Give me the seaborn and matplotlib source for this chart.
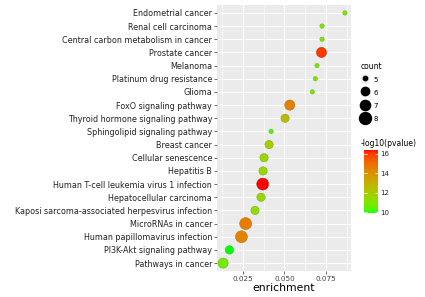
import numpy as np
import pandas as pd
import matplotlib
matplotlib.use("Agg")
import matplotlib.pyplot as plt
import seaborn as sns
from matplotlib.colors import ListedColormap, Normalize
from matplotlib.lines import Line2D
from matplotlib.patches import Patch
from matplotlib.legend_handler import HandlerTuple
from matplotlib.ticker import MultipleLocator

pathways = [
    "Endometrial cancer", "Renal cell carcinoma", "Central carbon metabolism in cancer",
    "Prostate cancer", "Melanoma", "Platinum drug resistance", "Glioma",
    "FoxO signaling pathway", "Thyroid hormone signaling pathway",
    "Sphingolipid signaling pathway", "Breast cancer", "Cellular senescence",
    "Hepatitis B", "Human T-cell leukemia virus 1 infection", "Hepatocellular carcinoma",
    "Kaposi sarcoma-associated herpesvirus infection", "MicroRNAs in cancer",
    "Human papillomavirus infection", "PI3K-Akt signaling pathway", "Pathways in cancer",
]
enrichment = [0.0862, 0.0725, 0.0725, 0.0722, 0.0695, 0.0685, 0.0667,
              0.0532, 0.0504, 0.0420, 0.0408, 0.0378, 0.0372, 0.0370,
              0.0360, 0.0324, 0.0268, 0.0243, 0.0171, 0.0133]
count = [5, 5, 5, 7, 5, 5, 5, 7, 6, 5, 6, 6, 6, 8, 6, 6, 8, 8, 6, 7]
neglogp = [10.9, 10.9, 10.9, 16.0, 10.9, 10.9, 10.9, 14.5, 12.6, 10.3,
           11.9, 11.6, 11.5, 16.4, 11.5, 11.3, 14.6, 14.4, 9.9, 10.8]
size_levels = [5, 6, 7, 8]
cbar_ticks = [10, 12, 14, 16]

df = pd.DataFrame({"pathway": pathways, "enrichment": enrichment,
                   "count": count, "p": neglogp})

# ggplot-like green->red gradient interpolated in Lab space
def srgb_to_lab(rgb):
    rgb = np.asarray(rgb, float)
    lin = np.where(rgb <= 0.04045, rgb / 12.92, ((rgb + 0.055) / 1.055) ** 2.4)
    M = np.array([[0.4124, 0.3576, 0.1805], [0.2126, 0.7152, 0.0722], [0.0193, 0.1192, 0.9505]])
    xyz = M @ lin
    wp = np.array([0.95047, 1.0, 1.08883])
    t = xyz / wp
    f = np.where(t > 216 / 24389, np.cbrt(t), (24389 / 27 * t + 16) / 116)
    return np.array([116 * f[1] - 16, 500 * (f[0] - f[1]), 200 * (f[1] - f[2])])

def lab_to_srgb(lab):
    L, a, b = lab
    fy = (L + 16) / 116
    fx = fy + a / 500
    fz = fy - b / 200
    def finv(f):
        return f ** 3 if f ** 3 > 216 / 24389 else (116 * f - 16) / (24389 / 27)
    wp = np.array([0.95047, 1.0, 1.08883])
    xyz = np.array([finv(fx), finv(fy), finv(fz)]) * wp
    Minv = np.array([[3.2406, -1.5372, -0.4986], [-0.9689, 1.8758, 0.0415], [0.0557, -0.2040, 1.0570]])
    lin = np.clip(Minv @ xyz, 0, 1)
    rgb = np.where(lin <= 0.0031308, 12.92 * lin, 1.055 * lin ** (1 / 2.4) - 0.055)
    return np.clip(rgb, 0, 1)

lab_lo = srgb_to_lab([0, 1, 0])
lab_hi = srgb_to_lab([1, 0, 0])
cols = [lab_to_srgb(lab_lo + (lab_hi - lab_lo) * t) for t in np.linspace(0, 1, 256)]
cmap = ListedColormap(cols)
vmin, vmax = min(neglogp), max(neglogp)
norm = Normalize(vmin, vmax)

size_map = {5: 10, 6: 36, 7: 54, 8: 74}

fig = plt.figure(figsize=(4.25, 2.97), dpi=100)
ax = fig.add_axes([217 / 425, 1 - 271 / 297, 134 / 425, 266 / 297])
ax.set_facecolor("#EBEBEB")

sns.scatterplot(data=df, x="enrichment", y="pathway", hue="p", palette=cmap,
                hue_norm=(vmin, vmax), size="count", sizes=size_map,
                linewidth=0.3, edgecolor="#5a7a20", legend=False, ax=ax, zorder=3)
# keep edges only subtle on the smallest dots
for coll in ax.collections:
    fc = coll.get_facecolors()
    coll.set_edgecolors(fc * np.array([0.75, 0.75, 0.75, 1.0]))

n = len(pathways)
ax.set_ylim(n - 1 + 0.6, -0.6)
span = max(enrichment) - min(enrichment)
ax.set_xlim(min(enrichment) - 0.05 * span, max(enrichment) + 0.05 * span)
ax.xaxis.set_minor_locator(MultipleLocator(0.0125))
ax.set_xticks([0.025, 0.05, 0.075])
ax.set_xticklabels(["0.025", "0.050", "0.075"])
ax.grid(which="major", color="white", linewidth=0.8, zorder=0)
ax.grid(which="minor", axis="x", color="white", linewidth=0.4, zorder=0)
ax.set_axisbelow(True)
for s in ax.spines.values():
    s.set_visible(False)
ax.tick_params(axis="both", which="major", length=2, width=0.5, color="#333333",
               labelsize=5.75, labelcolor="#222222", pad=1.5)
ax.tick_params(axis="x", which="minor", length=0)
ax.tick_params(axis="x", labelsize=5.2, labelcolor="#444444")
ax.set_ylabel("")
ax.set_xlabel("enrichment", fontsize=7.8, labelpad=1.0)

# size legend
handles = [(Patch(facecolor="#F2F2F2", edgecolor="none"),
            Line2D([], [], marker="o", linestyle="", color="black",
                   markersize=np.sqrt(size_map[v]))) for v in size_levels]
leg = fig.legend(handles, [str(v) for v in size_levels], title="count",
                 handler_map={tuple: HandlerTuple(ndivide=1, pad=0)},
                 loc="upper left", bbox_to_anchor=(361 / 425, 1 - 62 / 297),
                 frameon=False, fontsize=5, title_fontsize=5.5,
                 handlelength=1.25, handleheight=1.7, labelspacing=0.55,
                 handletextpad=0.6, borderpad=0, borderaxespad=0)
leg._legend_box.align = "left"

# colorbar
cax = fig.add_axes([364 / 425, 1 - 213 / 297, 13.5 / 425, 63 / 297])
sm = plt.cm.ScalarMappable(cmap=cmap, norm=norm)
cb = fig.colorbar(sm, cax=cax, ticks=cbar_ticks)
cb.outline.set_visible(False)
cax.tick_params(length=2.5, width=0.5, color="white", labelsize=5, pad=2,
                labelcolor="#222222", direction="in")
for t in cbar_ticks:
    cax.plot([0, 0.2], [t, t], color="white", lw=0.5, transform=cax.get_yaxis_transform())
fig.text(361 / 425, 1 - 144 / 297, "-log10(pvalue)", fontsize=5.5, va="center", ha="left")

fig.savefig("out.png", dpi=100)
